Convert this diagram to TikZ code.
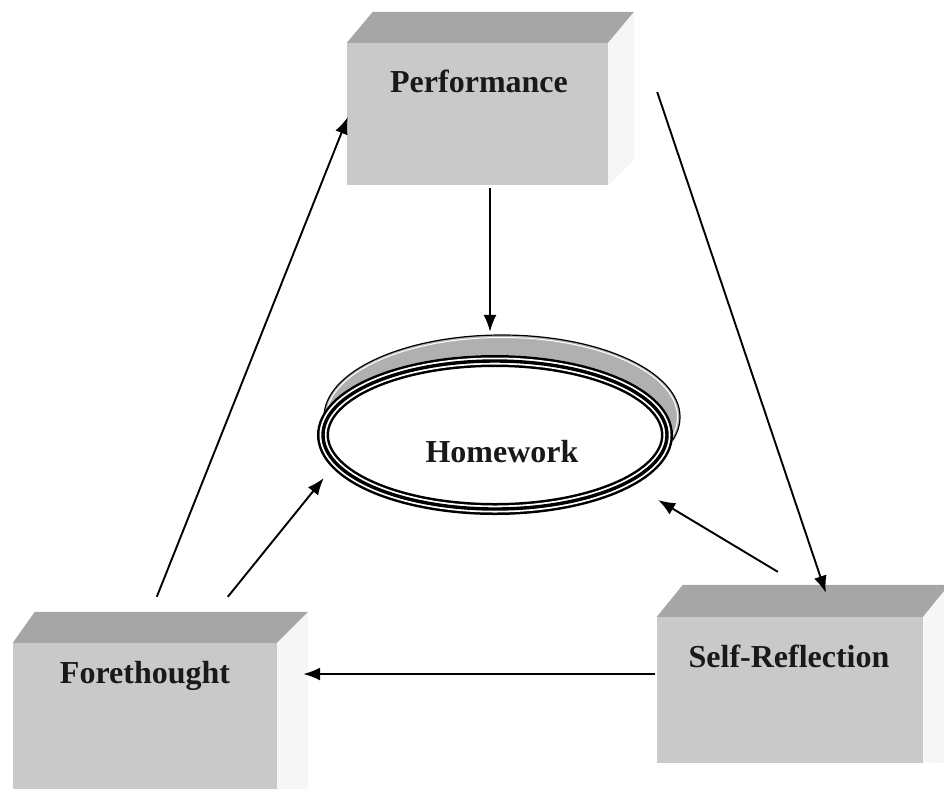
\documentclass[tikz,border=0pt]{standalone}
\usepackage{fontspec}
\setmainfont{Liberation Serif}
\usetikzlibrary{calc,arrows.meta,shapes.geometric}
\begin{document}
\begin{tikzpicture}[x=1pt,y=-1pt,
  face/.style={rectangle, draw=none, fill=gray!42, inner sep=0pt},
  topface/.style={fill=gray!70},
  sideface/.style={fill=gray!7},
  lbl/.style={anchor=base, inner sep=0pt, text=black!90,
    font=\fontsize{32}{38}\selectfont\bfseries},
  conn/.style={line width=1.9pt, -{Latex[length=17pt,width=13pt]}},
]
\useasboundingbox (0,0) rectangle (944,788);
\clip (0,0) rectangle (944,788);

% front faces of the three blocks
\node[face, minimum width=261pt, minimum height=142pt] (perf) at (477.5,114) {};
\node[face, minimum width=264pt, minimum height=150pt] (fore) at (145,718) {};
\node[face, minimum width=266pt, minimum height=146pt] (self) at (790,690) {};

% Performance block: top and side
\fill[topface] (perf.north west) -- ++(26,-31) -- ($(perf.north east)+(26,-31)$) -- (perf.north east) -- cycle;
\fill[sideface] (perf.north east) -- ++(26,-31) -- ++(0,148) -- (perf.south east) -- cycle;

% Forethought block: top and side
\fill[topface] (fore.north west) -- ++(22,-31) -- ($(fore.north east)+(31,-31)$) -- (fore.north east) -- cycle;
\fill[sideface] (fore.north east) -- ++(31,-31) -- ++(0,190) -- (fore.south east) -- cycle;

% Self-Reflection block: top and side
\fill[topface] (self.north west) -- ++(26,-32) -- ($(self.north east)+(26,-32)$) -- (self.north east) -- cycle;
\fill[sideface] (self.north east) -- ++(26,-32) -- ++(0,178) -- (self.south east) -- cycle;

% Homework ring with its raised shadow
\node[ellipse, minimum width=356pt, minimum height=160pt, inner sep=0pt] (hw) at (495,435) {};
\draw[line width=1.2pt, fill=gray!62] ($(hw.center)+(7,-18)$) ellipse [x radius=178, y radius=82];
\draw[white, line width=1pt] ($(hw.center)+(7,-18)$) ellipse [x radius=175.5, y radius=79.5];
\fill[white] (hw.center) ellipse [x radius=178, y radius=80];
\draw[line width=12pt] (hw.center) ellipse [x radius=172, y radius=74];
\draw[white, line width=7pt] (hw.center) ellipse [x radius=172, y radius=74];
\draw[line width=3.4pt] (hw.center) ellipse [x radius=172, y radius=74];

% connectors
\draw[conn] ($(perf.south)+(12.5,3)$) -- ($(hw.north)+(-5,-23)$);
\draw[conn] ($(fore.north west)+(144,-46)$) -- ($(perf.west)+(1,3)$);
\draw[conn] ($(fore.north west)+(215,-46)$) -- ($(hw.west)+(7,43)$);
\draw[conn] ($(self.north west)+(121,-45)$) -- ($(hw.east)+(-15,65)$);
\draw[conn] ($(perf.east)+(49,-22)$) -- ($(self.north west)+(169,-24)$);
\draw[conn] ($(self.west)+(-2,-16)$) -- ($(fore.east)+(26,-44)$);

% labels
\node[lbl] (perfl) at (479,92) {Performance};
\node[lbl] (forel) at (145,683) {Forethought};
\node[lbl] (selfl) at (789,667) {Self-Reflection};
\node[lbl] (hwl) at (502,462) {Homework};
\end{tikzpicture}
\end{document}
